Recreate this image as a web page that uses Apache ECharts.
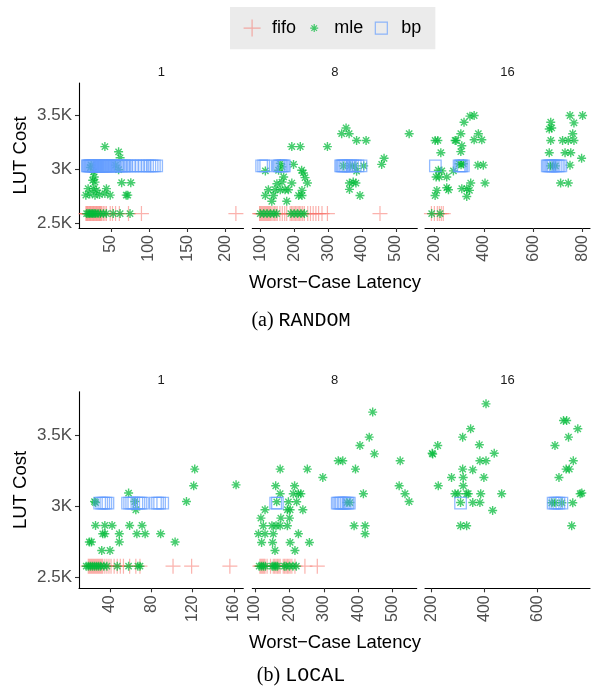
<!DOCTYPE html>
<html>
<head>
<meta charset="utf-8">
<script src="https://cdn.jsdelivr.net/npm/echarts@6/dist/echarts.min.js"></script>
<style>
html, body { margin: 0; padding: 0; background: #fff; }
#chart { width: 599px; height: 690px; }
</style>
</head>
<body>
<div id="chart"></div>
<script>
// ---- data: (a) RANDOM ----
var randFifoCost = 2590;
var randBpCost = 3030;
var randFifo1 = [17,18,19,20,21,22,23,24,25,26,27,28,29,30,31,32,33,34,35,36,37,38,40,42,44,49,52,56,61,73,90,214];
var randBp1 = [19,20,21,22,23,24,25,26,27,28,29,30,31,32,33,34,35,36,37,38,39,40,41,42,43,44,45,46,47,48,50,52,54,56,58,60,62,64,66,68,70,74,78,82,86,90,94,98,101,104,107,110];
var randMle1 = [[42,3208],[60,3160],[62,3105],[24,3037],[23,3015],[56,3037],[60,2995],[27,2975],[28,2928],[26,2897],[29,2880],
  [20,2820],[27,2820],[31,2805],[44,2820],[64,2875],[76,2875],[17,2760],[22,2770],[29,2760],[35,2765],[42,2775],[49,2760],
  [70,2760],[72,2760],[18,2590],[20,2590],[22,2590],[24,2590],[26,2590],[28,2590],[30,2590],[33,2590],[36,2590],[40,2590],
  [44,2590],[53,2590],[62,2590],[75,2590]];
var randFifo8 = [98,100,103,106,109,112,115,118,121,124,127,130,134,138,142,146,150,158,165,172,178,188,192,196,200,204,208,212,216,220,225,230,240,248,256,264,272,282,298,453];
var randBp8 = [104,110,116,153,156,160,164,168,171,337,340,343,346,350,355,360,366,372,380,388,397];
var randMle8 = [[353,3380],[340,3327],[362,3327],[384,3265],[412,3265],[539,3327],[193,3208],[218,3208],[298,3208],[465,3100],
  [458,3044],[115,2984],[159,3053],[164,3021],[154,2990],[198,3044],[222,2990],[227,2965],[345,3030],[365,3030],[379,3030],
  [405,3030],[384,2981],[193,2872],[232,2922],[239,2872],[169,2928],[164,2881],[149,2866],[124,2810],[144,2810],[159,2810],
  [173,2810],[183,2810],[223,2804],[363,2872],[374,2881],[382,2872],[363,2813],[115,2757],[139,2757],[213,2757],[223,2757],
  [134,2704],[178,2704],[394,2757],[100,2590],[110,2590],[120,2590],[130,2590],[140,2590],[148,2590],[190,2590],[200,2590],
  [210,2590],[220,2590],[230,2590]];
var randFifo16 = [188,200,212,220,228,236];
var randBp16 = [204,300,305,310,317,657,662,667,672,677,682,690,698,705,712];
var randMle16 = [[344,3489],[361,3495],[320,3433],[307,3327],[203,3265],[214,3265],[284,3265],[288,3265],[378,3327],[361,3271],
  [392,3271],[311,3216],[307,3162],[226,3152],[300,3050],[308,3040],[317,3050],[376,3037],[398,3037],[216,2990],[230,2984],
  [207,2928],[220,2928],[250,2928],[277,2984],[210,2804],[203,2757],[250,2829],[257,2810],[311,2820],[331,2820],[347,2872],
  [342,2804],[331,2748],[405,2872],[189,2590],[223,2590],[749,3495],[800,3495],[765,3427],[671,3433],[675,3380],[665,3370],
  [760,3327],[671,3265],[719,3265],[742,3265],[765,3265],[665,3152],[729,3152],[752,3152],[796,3100],[749,3037],[670,3030],
  [680,3030],[690,3030],[711,2872],[742,2872]];

// ---- data: (b) LOCAL ----
var locFifoCost = 2578;
var locBpCost = 3024;
var locFifo1 = [19,20,21,22,23,24,25,26,27,28,29,30,31,32,33,35,37,39,41,44,47,50,53,59,65,69,101,119,156];
var locBp1 = [30,32,34,36,38,57,59,61,63,66,68,70,72,84,86,88,91];
var locMle1 = [[122,3264],[121,3146],[114,3035],[58,3095],[25,3035],[26,3028],[64,3035],[65,2977],[26,2866],[35,2866],[42,2866],
  [59,2866],[71,2866],[33,2807],[35,2807],[49,2807],[66,2807],[74,2807],[89,2807],[20,2749],[22,2749],[49,2749],[103,2749],
  [32,2689],[40,2689],[162,3153],[17,2578],[19,2578],[21,2578],[23,2578],[25,2578],[27,2578],[29,2578],[31,2578],[34,2578],
  [37,2578],[47,2578],[58,2578],[67,2578],[69,2578]];
var locFifo8 = [114,117,120,123,126,129,135,145,153,157,161,165,169,173,182,186,190,194,198,202,207,216,245,281];
var locBp8 = [160,165,339,343,347,351,356,360,365,370,374];
var locMle8 = [[442,3667],[432,3490],[405,3431],[447,3372],[342,3323],[355,3323],[522,3323],[173,3264],[252,3264],[392,3264],
  [297,3205],[160,3146],[215,3146],[173,3090],[211,3090],[226,3090],[233,3090],[415,3090],[519,3146],[536,3090],[548,3035],
  [163,3033],[197,3033],[221,3033],[129,2977],[194,2977],[202,2977],[239,2977],[367,3028],[376,3028],[117,2918],[175,2918],
  [200,2918],[124,2864],[149,2864],[161,2864],[173,2864],[194,2864],[110,2807],[129,2807],[153,2807],[226,2807],[388,2864],
  [420,2864],[420,2807],[119,2746],[151,2746],[202,2746],[258,2746],[158,2689],[216,2689],[112,2578],[118,2578],[124,2578],
  [130,2578],[150,2578],[155,2578],[160,2578],[165,2578],[185,2578],[190,2578],[200,2578],[210,2578],[220,2578]];
var locFifo16 = [];
var locBp16 = [309,658,665,672,680,691];
var locMle16 = [[405,3725],[347,3549],[317,3490],[380,3436],[223,3431],[202,3376],[204,3370],[436,3376],[382,3323],[405,3323],
  [317,3264],[355,3259],[275,3205],[319,3205],[397,3205],[225,3146],[319,3146],[288,3090],[300,3090],[332,3090],[338,3090],
  [385,3090],[464,3090],[309,3028],[355,3028],[382,3028],[430,2972],[309,2864],[332,2864],[697,3607],[709,3607],[751,3549],
  [716,3490],[665,3431],[734,3323],[707,3264],[719,3264],[680,3205],[760,3090],[766,3095],[653,3026],[665,3026],[691,3026],
  [732,3026],[728,2864]];

// ---- tick labels ----
var costTicks = [2500, 3000, 3500];
var randTicks1 = [50, 100, 150, 200];
var randTicks8 = [100, 200, 300, 400, 500];
var randTicks16 = [200, 400, 600, 800];
var locTicks1 = [40, 80, 120, 160];
var locTicks8 = [100, 200, 300, 400, 500];
var locTicks16 = [200, 400, 600];
var facetNames = ['1', '8', '16'];

var FONT = 'Liberation Sans';
var plusPath = 'path://M0,6H12M6,0V12';
var starPath = 'path://M0,5H10M5,0V10M1.5,1.5L8.5,8.5M8.5,1.5L1.5,8.5';
var legendStar = 'path://M0,0M17,17M4.5,8.5H12.5M8.5,4.5V12.5M5.7,5.7L11.3,11.3M11.3,5.7L5.7,11.3';
var legendSquare = 'path://M0,0M17,17M2.5,2.5H14.5V14.5H2.5Z';

var topY = [2457, 3795], botY = [2422, 3811];
var panels = [
  {grid: {left: 79, top: 83, width: 164.5, height: 145}, x: [8, 224], y: topY, ticks: randTicks1, fifo: randFifo1, bp: randBp1, mle: randMle1, fc: randFifoCost, bc: randBpCost},
  {grid: {left: 252.3, top: 83, width: 165, height: 145}, x: [76.5, 563], y: topY, ticks: randTicks8, fifo: randFifo8, bp: randBp8, mle: randMle8, fc: randFifoCost, bc: randBpCost},
  {grid: {left: 425, top: 83, width: 165, height: 145}, x: [162, 830], y: topY, ticks: randTicks16, fifo: randFifo16, bp: randBp16, mle: randMle16, fc: randFifoCost, bc: randBpCost},
  {grid: {left: 79, top: 391.7, width: 164.3, height: 196.6}, x: [10, 169], y: botY, ticks: locTicks1, fifo: locFifo1, bp: locBp1, mle: locMle1, fc: locFifoCost, bc: locBpCost},
  {grid: {left: 252.3, top: 391.7, width: 164.4, height: 196.6}, x: [92, 570], y: botY, ticks: locTicks8, fifo: locFifo8, bp: locBp8, mle: locMle8, fc: locFifoCost, bc: locBpCost},
  {grid: {left: 425, top: 391.7, width: 165, height: 196.6}, x: [175, 797], y: botY, ticks: locTicks16, fifo: locFifo16, bp: locBp16, mle: locMle16, fc: locFifoCost, bc: locBpCost}
];

var grids = [], xAxes = [], yAxes = [], series = [], graphics = [];
var axisLine = {show: true, onZero: false, lineStyle: {color: '#000', width: 1.1}};
var tickStyle = {color: '#333', width: 1.1};

panels.forEach(function (p, i) {
  grids.push(p.grid);
  xAxes.push({
    type: 'value', gridIndex: i, min: p.x[0], max: p.x[1],
    axisLine: axisLine,
    axisTick: {show: true, length: 4, lineStyle: tickStyle, customValues: p.ticks},
    axisLabel: {rotate: 90, margin: 7, fontSize: 16, color: '#4D4D4D', fontFamily: FONT, customValues: p.ticks},
    splitLine: {show: false}
  });
  if (i % 3 === 0) {
    yAxes.push({
      type: 'value', gridIndex: i, min: p.y[0], max: p.y[1],
      name: 'LUT Cost', nameLocation: 'middle', nameRotate: 90, nameGap: 49,
      nameTextStyle: {fontSize: 18.5, color: '#000', fontFamily: FONT},
      axisLine: axisLine,
      axisTick: {show: true, length: 4, lineStyle: tickStyle, customValues: costTicks},
      axisLabel: {margin: 7, fontSize: 17, color: '#4D4D4D', fontFamily: FONT, customValues: costTicks,
        formatter: function (v) { return (v / 1000) + 'K'; }},
      splitLine: {show: false}
    });
  } else {
    yAxes.push({type: 'value', gridIndex: i, min: p.y[0], max: p.y[1], show: false});
  }
  series.push({
    type: 'scatter', name: 'fifo', xAxisIndex: i, yAxisIndex: i, symbol: plusPath, symbolSize: 15,
    itemStyle: {color: 'rgba(0,0,0,0)', borderColor: 'rgba(248,118,109,0.7)', borderWidth: 1.2},
    data: p.fifo.map(function (x) { return [x, p.fc]; })
  });
  series.push({
    type: 'scatter', name: 'mle', xAxisIndex: i, yAxisIndex: i, symbol: starPath, symbolSize: 9,
    itemStyle: {color: 'rgba(0,0,0,0)', borderColor: 'rgba(0,186,56,0.9)', borderWidth: 1.4},
    data: p.mle
  });
  series.push({
    type: 'scatter', name: 'bp', xAxisIndex: i, yAxisIndex: i, symbol: 'rect', symbolSize: 11.5,
    itemStyle: {color: 'rgba(0,0,0,0)', borderColor: 'rgba(97,156,255,0.85)', borderWidth: 1.3},
    data: p.bp.map(function (x) { return [x, p.bc]; })
  });
  // facet strip label
  graphics.push({
    type: 'text', x: p.grid.left + p.grid.width / 2, y: p.grid.top - 11,
    style: {text: facetNames[i % 3], fill: '#1A1A1A', fontSize: 13, fontFamily: FONT, align: 'center', verticalAlign: 'middle'}
  });
});

// axis titles and captions
[[283, 321, '(a)', 'RANDOM'], [643, 676, '(b)', 'LOCAL']].forEach(function (t) {
  graphics.push({
    type: 'text', x: 335, y: t[0],
    style: {text: 'Worst\u2212Case Latency', fill: '#000', fontSize: 18.5, fontFamily: FONT, align: 'center', verticalAlign: 'middle'}
  });
  graphics.push({
    type: 'text', x: 301, y: t[1],
    style: {
      text: '{a|' + t[2] + '} {b|' + t[3] + '}', fill: '#000', align: 'center', verticalAlign: 'middle',
      fontSize: 20, fontFamily: 'Liberation Serif',
      rich: {a: {fontFamily: 'Liberation Serif', fontSize: 20}, b: {fontFamily: 'Liberation Mono', fontSize: 20}}
    }
  });
});

var chart = echarts.init(document.getElementById('chart'));
chart.setOption({
  animation: false,
  backgroundColor: '#fff',
  legend: {
    left: 230, top: 7, padding: [12, 14, 12, 13], backgroundColor: '#EBEBEB',
    itemWidth: 30, itemHeight: 17, itemGap: 9, selectedMode: false,
    itemStyle: {borderWidth: 1.2},
    textStyle: {fontSize: 18, color: '#000', fontFamily: FONT},
    data: [{name: 'fifo', icon: plusPath}, {name: 'mle', icon: legendStar}, {name: 'bp', icon: legendSquare}]
  },
  grid: grids,
  xAxis: xAxes,
  yAxis: yAxes,
  series: series,
  graphic: graphics
});
</script>
</body>
</html>
